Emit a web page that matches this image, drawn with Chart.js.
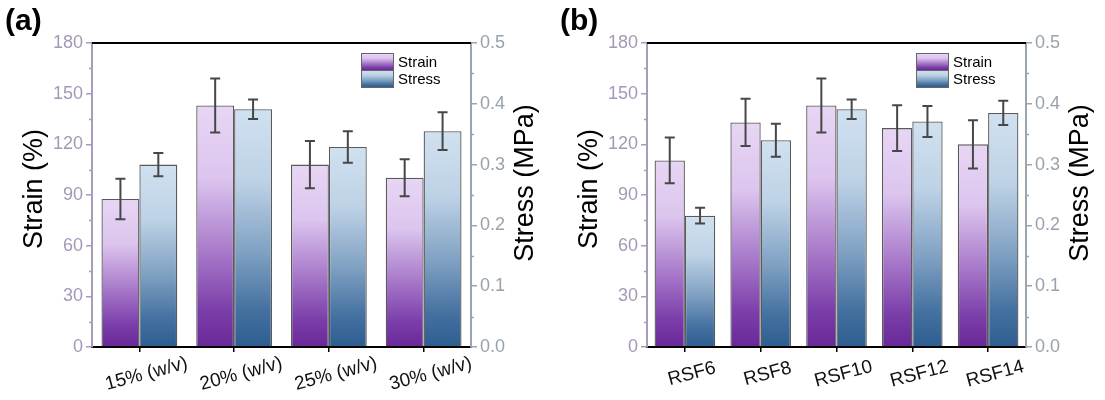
<!DOCTYPE html>
<html>
<head>
<meta charset="utf-8">
<script src="https://cdn.jsdelivr.net/npm/chart.js@4.4.1/dist/chart.umd.min.js"></script>
<style>
  html, body { margin: 0; padding: 0; background: #fff; }
  .wrap { display: flex; width: 1105px; height: 400px; }
  canvas { display: block; }
</style>
</head>
<body>
<div class="wrap">
  <canvas id="chart-a" width="555" height="400"></canvas>
  <canvas id="chart-b" width="550" height="400"></canvas>
</div>
<script>
// ── data ──
const catsA = ['15% (w/v)', '20% (w/v)', '25% (w/v)', '30% (w/v)'];
const strainA = [87.6, 143, 108, 100.2];
const strainErrA = [12, 16, 14, 11];
const stressA = [0.300, 0.391, 0.329, 0.355];
const stressErrA = [0.019, 0.016, 0.026, 0.031];

const catsB = ['RSF6', 'RSF8', 'RSF10', 'RSF12', 'RSF14'];
const strainB = [110.5, 133, 143, 129.6, 120];
const strainErrB = [13.5, 14, 16, 13.5, 14.3];
const stressB = [0.216, 0.340, 0.391, 0.371, 0.385];
const stressErrB = [0.013, 0.027, 0.016, 0.0255, 0.020];

const strainTicks = [0, 30, 60, 90, 120, 150, 180];
const stressTicks = [0, 0.1, 0.2, 0.3, 0.4, 0.5];

const FONT = '"Liberation Sans", Arial, sans-serif';
const LEFT_COL = '#a89bbc';
const RIGHT_COL = '#9ba5b0';

const STRAIN_STOPS = [[0, '#e8d6f5'], [0.3, '#dcc5ee'], [0.6, '#a97bcb'], [0.85, '#7b3ea9'], [1, '#692898']];
const STRESS_STOPS = [[0, '#d0e1f0'], [0.3, '#bed2e6'], [0.6, '#80a1c3'], [0.85, '#43709f'], [1, '#2e5d90']];

function grad(ctx, top, bottom, stops) {
  const g = ctx.createLinearGradient(0, top, 0, bottom);
  stops.forEach(([o, c]) => g.addColorStop(o, c));
  return g;
}

// per-bar gradient, light at the top of the bar, dark at zero
function barFill(stops) {
  return c => {
    const chart = c.chart;
    if (!c.parsed || !chart.chartArea) return stops[2][1];
    const sc = chart.scales[c.dataset.yAxisID];
    const top = sc.getPixelForValue(c.parsed.y);
    const bottom = sc.getPixelForValue(0);
    return grad(chart.ctx, top, bottom, stops);
  };
}

const decor = {
  id: 'decor',
  afterDatasetsDraw(chart) {
    const { ctx } = chart;
    // error bars
    chart.data.datasets.forEach((ds, di) => {
      const meta = chart.getDatasetMeta(di);
      const sc = chart.scales[ds.yAxisID];
      meta.data.forEach((el, i) => {
        const v = ds.data[i], e = ds.errors[i];
        const y1 = sc.getPixelForValue(v + e), y2 = sc.getPixelForValue(v - e);
        ctx.save();
        ctx.strokeStyle = '#474747';
        ctx.lineWidth = 2;
        ctx.beginPath();
        ctx.moveTo(el.x, y1); ctx.lineTo(el.x, y2);
        ctx.moveTo(el.x - 5, y1); ctx.lineTo(el.x + 5, y1);
        ctx.moveTo(el.x - 5, y2); ctx.lineTo(el.x + 5, y2);
        ctx.stroke();
        ctx.restore();
      });
    });
  },
  afterDraw(chart, args, opts) {
    const { ctx, chartArea: a, scales } = chart;
    ctx.save();
    // top frame line
    ctx.strokeStyle = '#000';
    ctx.lineWidth = 2;
    ctx.beginPath();
    ctx.moveTo(a.left, a.top); ctx.lineTo(a.right, a.top);
    ctx.stroke();

    // minor ticks
    ctx.lineWidth = 1.5;
    ctx.strokeStyle = LEFT_COL;
    ctx.beginPath();
    for (let v = 15; v < 180; v += 30) {
      const y = Math.round(scales.y.getPixelForValue(v)) + 0.5;
      ctx.moveTo(a.left - 3, y); ctx.lineTo(a.left, y);
    }
    ctx.stroke();
    ctx.strokeStyle = RIGHT_COL;
    ctx.beginPath();
    for (let k = 0; k < 5; k++) {
      const y = Math.round(scales.y2.getPixelForValue(0.05 + k * 0.1)) + 0.5;
      ctx.moveTo(a.right, y); ctx.lineTo(a.right + 3, y);
    }
    ctx.stroke();

    // x labels, rotated and centred on the ticks
    ctx.fillStyle = '#111';
    ctx.font = `19px ${FONT}`;
    ctx.textAlign = 'center';
    ctx.textBaseline = 'middle';
    chart.data.labels.forEach((lab, i) => {
      const x = scales.x.getPixelForValue(i);
      ctx.save();
      ctx.translate(x + 7, 374);
      ctx.rotate(-15 * Math.PI / 180);
      ctx.fillText(lab, 0, 0);
      ctx.restore();
    });

    // axis titles
    ctx.fillStyle = '#000';
    ctx.font = `27px ${FONT}`;
    ctx.save();
    ctx.translate(35, 189);
    ctx.rotate(-Math.PI / 2);
    ctx.fillText('Strain (%)', 0, 0);
    ctx.restore();
    ctx.save();
    ctx.translate(a.right + 55, 183);
    ctx.rotate(-Math.PI / 2);
    ctx.fillText('Stress (MPa)', 0, 0);
    ctx.restore();

    // panel label
    ctx.font = `bold 30px ${FONT}`;
    ctx.textAlign = 'left';
    ctx.fillText(opts.label, 5, 22);

    // legend
    const lx = a.left + 269, boxW = 32, boxH = 17;
    [['Strain', STRAIN_STOPS, 53], ['Stress', STRESS_STOPS, 70]].forEach(([name, stops, y]) => {
      ctx.fillStyle = grad(ctx, y, y + boxH, stops);
      ctx.fillRect(lx, y, boxW, boxH);
      ctx.strokeStyle = '#666';
      ctx.lineWidth = 1;
      ctx.strokeRect(lx + 0.5, y + 0.5, boxW, boxH);
      ctx.fillStyle = '#000';
      ctx.font = `15px ${FONT}`;
      ctx.textBaseline = 'middle';
      ctx.fillText(name, lx + boxW + 5, y + boxH / 2 + 1);
    });
    ctx.restore();
  }
};

function makePanel(id, label, cats, strain, strainErr, stress, stressErr, rightWidth) {
  return new Chart(document.getElementById(id), {
    type: 'bar',
    data: {
      labels: cats,
      datasets: [
        {
          label: 'Strain',
          data: strain,
          errors: strainErr,
          yAxisID: 'y',
          backgroundColor: barFill(STRAIN_STOPS),
          borderColor: '#5a5a5a',
          borderWidth: 1.3,
          categoryPercentage: 0.8,
          barPercentage: 1.0,
        },
        {
          label: 'Stress',
          data: stress,
          errors: stressErr,
          yAxisID: 'y2',
          backgroundColor: barFill(STRESS_STOPS),
          borderColor: '#5a5a5a',
          borderWidth: 1.3,
          categoryPercentage: 0.8,
          barPercentage: 1.0,
        }
      ]
    },
    options: {
      responsive: false,
      animation: false,
      layout: { padding: { top: 43, left: 0, right: 0, bottom: 0 } },
      plugins: {
        legend: { display: false },
        tooltip: { enabled: false },
        decor: { label },
      },
      scales: {
        x: {
          offset: true,
          grid: { offset: false, drawOnChartArea: false, drawTicks: true, tickLength: 5, color: '#000', lineWidth: 1.5 },
          border: { color: '#000', width: 2 },
          ticks: { display: false },
          afterFit: s => { s.height = 53; },
        },
        y: {
          position: 'left',
          min: 0, max: 180,
          afterBuildTicks: s => { s.ticks = strainTicks.map(v => ({ value: v })); },
          grid: { drawOnChartArea: false, tickLength: 6, color: LEFT_COL, lineWidth: 1.5 },
          border: { color: LEFT_COL, width: 2 },
          ticks: { color: '#a598b7', padding: 3, font: { family: FONT, size: 18 } },
          afterFit: s => { s.width = 92; },
        },
        y2: {
          position: 'right',
          min: 0, max: 0.5,
          afterBuildTicks: s => { s.ticks = stressTicks.map(v => ({ value: v })); },
          grid: { drawOnChartArea: false, tickLength: 6, color: RIGHT_COL, lineWidth: 1.5 },
          border: { color: RIGHT_COL, width: 2 },
          ticks: { color: '#98a2ad', padding: 3, font: { family: FONT, size: 18 }, callback: v => v.toFixed(1) },
          afterFit: s => { s.width = rightWidth; },
        }
      }
    },
    plugins: [decor]
  });
}

makePanel('chart-a', '(a)', catsA, strainA, strainErrA, stressA, stressErrA, 84);
makePanel('chart-b', '(b)', catsB, strainB, strainErrB, stressB, stressErrB, 79);
</script>
</body>
</html>
